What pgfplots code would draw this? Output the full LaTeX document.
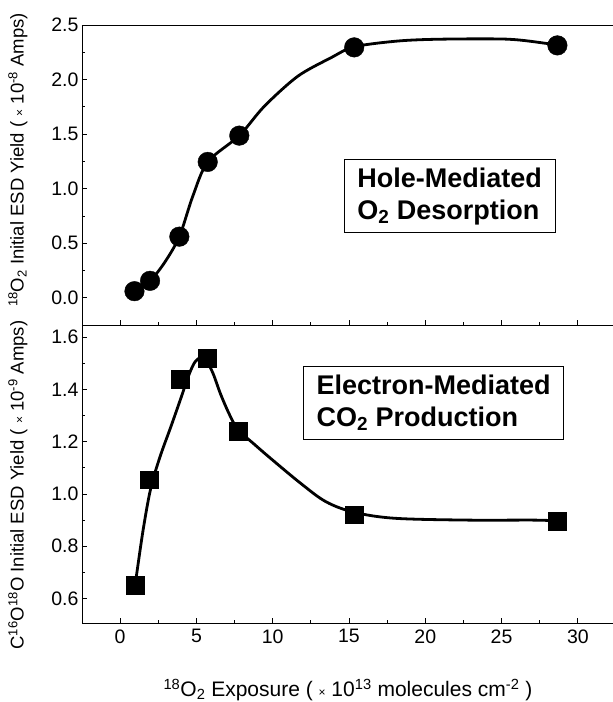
\documentclass[border=0pt]{standalone}
\usepackage{pgfplots}
\pgfplotsset{compat=1.18}
\usepackage{fontspec}
\setmainfont{Liberation Sans}
\newcommand{\tms}{{\fontsize{12}{12}\selectfont ×}}
\begin{document}
\begin{tikzpicture}
\pgfplotsset{
 every axis/.append style={
  scale only axis, width=534pt, xmin=-2.5, xmax=32.5,
  tick align=inside, xtick pos=bottom, ytick pos=left,
  major tick length=5pt, minor tick length=3pt,
  xtick={0,5,10,15,20,25,30}, minor x tick num=1,
  minor y tick num=1,
  tick label style={font=\fontsize{19.5}{20}\selectfont},
  xticklabel style={yshift=-3pt},
  /pgf/number format/assume math mode=true,
  axis line style={line width=0.8pt},
  tick style={line width=0.8pt, black},
  clip=false,
 }
}
% Top panel
\begin{axis}[at={(0,0)}, anchor=north west, height=300pt,
  ymin=-0.25, ymax=2.5, ytick={0,0.5,1.0,1.5,2.0,2.5},
  xticklabels={},
  yticklabel style={/pgf/number format/.cd, fixed, fixed zerofill, precision=1},
]
\addplot[black, line width=2.8pt, smooth, tension=0.5] coordinates {
 (0.94,0.06) (1.96,0.155) (2.9,0.32) (3.88,0.56) (4.76,0.93) (5.74,1.245)
 (7.81,1.486) (9.45,1.755) (11.64,2.03) (13.82,2.20) (15.34,2.30) (18.19,2.353)
 (21.0,2.37) (25.4,2.37) (28.0,2.33) (28.66,2.313)
};
\addplot[only marks, mark=*, mark size=9.8pt, black] coordinates {
 (0.94,0.06) (1.96,0.155) (3.88,0.56) (5.74,1.245) (7.81,1.486) (15.34,2.295) (28.66,2.313)
};
\node[draw, line width=0.8pt, align=left, inner xsep=13pt, inner ysep=8pt,
  font=\fontsize{27}{32}\selectfont\bfseries, fill=white] at (axis cs:21.6,0.93)
  {Hole-Mediated\\O\textsubscript{2} Desorption};
\node[rotate=90, font=\fontsize{18.5}{20}\selectfont] at (axis description cs:-0.12,0.55)
  {\textsuperscript{18}O\textsubscript{2} Initial ESD Yield ( \tms\ 10\textsuperscript{-8} Amps)};
\end{axis}
% Bottom panel
\begin{axis}[at={(0,-300pt)}, anchor=north west, height=298pt,
  ymin=0.506, ymax=1.647, ytick={0.6,0.8,1.0,1.2,1.4,1.6},
  yticklabel style={/pgf/number format/.cd, fixed, fixed zerofill, precision=1},
]
\addplot[black, line width=2.8pt, smooth, tension=0.55] coordinates {
 (0.98,0.65) (1.5,0.86) (2.0,1.02) (2.6,1.14) (3.34,1.26) (4.0,1.37) (4.5,1.455)
 (4.9,1.505) (5.3,1.522) (5.7,1.505) (6.1,1.46) (6.6,1.38) (7.2,1.3) (7.75,1.245)
 (8.8,1.19) (9.89,1.135) (11.85,1.04) (13.5,0.97) (15.34,0.93) (18.0,0.907)
 (22.8,0.9) (27.1,0.9) (28.66,0.897)
};
\addplot[only marks, mark=square*, mark size=8.8pt, black] coordinates {
 (0.98,0.65) (1.92,1.054) (3.95,1.44) (5.70,1.52) (7.75,1.24) (15.34,0.92) (28.66,0.895)
};
\node[draw, line width=0.8pt, align=left, inner xsep=13pt, inner ysep=8pt,
  font=\fontsize{27}{32}\selectfont\bfseries, fill=white] at (axis cs:20.55,1.349)
  {Electron-Mediated\\CO\textsubscript{2} Production};
\node[rotate=90, font=\fontsize{18.5}{20}\selectfont] at (axis description cs:-0.12,0.463)
  {C\textsuperscript{16}O\textsuperscript{18}O Initial ESD Yield ( \tms\ 10\textsuperscript{-9} Amps)};
\node[font=\fontsize{21}{22}\selectfont] at (axis description cs:0.498,-0.225)
  {\textsuperscript{18}O\textsubscript{2} Exposure ( \tms\ 10\textsuperscript{13} molecules cm\textsuperscript{-2} )};
\end{axis}
\pgfresetboundingbox
\path (-82pt,-677pt) rectangle (531pt,25pt);
\end{tikzpicture}
\end{document}
